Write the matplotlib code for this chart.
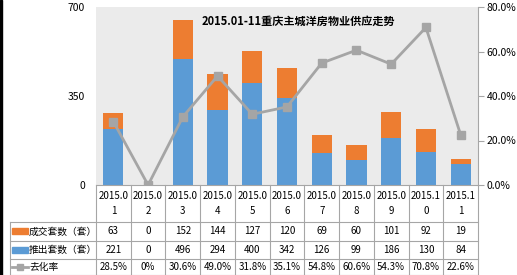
import matplotlib
matplotlib.use("Agg")
import matplotlib.pyplot as plt
from matplotlib.lines import Line2D
from matplotlib.patches import Rectangle
import numpy as np

plt.rcParams['font.family'] = ['Noto Sans CJK SC', 'DejaVu Sans']

months = ["2015.0\n1", "2015.0\n2", "2015.0\n3", "2015.0\n4", "2015.0\n5", "2015.0\n6",
          "2015.0\n7", "2015.0\n8", "2015.0\n9", "2015.1\n0", "2015.1\n1"]
sold = [63, 0, 152, 144, 127, 120, 69, 60, 101, 92, 19]
launched = [221, 0, 496, 294, 400, 342, 126, 99, 186, 130, 84]
rate = [28.5, 0, 30.6, 49.0, 31.8, 35.1, 54.8, 60.6, 54.3, 70.8, 22.6]
rate_labels = ["28.5%", "0%", "30.6%", "49.0%", "31.8%", "35.1%", "54.8%", "60.6%", "54.3%", "70.8%", "22.6%"]

BLUE = "#5B9BD5"
ORANGE = "#ED7D31"
GRAY = "#A5A5A5"
GRID = "#A6A6A6"

W, H = 517, 275
fig = plt.figure(figsize=(W / 100, H / 100), dpi=100)

# plot area in pixel coords
x0, x1, ytop, ybot = 96, 478, 7, 185
ax = fig.add_axes([x0 / W, 1 - ybot / H, (x1 - x0) / W, (ybot - ytop) / H])
ax.set_facecolor("#EBEBEB")

x = np.arange(len(months))
ax.bar(x, launched, width=0.58, color=BLUE, zorder=2)
ax.bar(x, sold, width=0.58, bottom=launched, color=ORANGE, zorder=2)
ax.set_xlim(-0.5, len(months) - 0.5)
ax.set_ylim(0, 700)
ax.set_yticks([0, 350, 700])
ax.tick_params(axis="y", length=0, labelsize=7.5, pad=8)
ax.set_xticks([])
for s in ["top", "left", "right"]:
    ax.spines[s].set_visible(False)
ax.spines["bottom"].set_color(GRID)

ax2 = ax.twinx()
ax2.plot(x, rate, color=GRAY, lw=2, marker="s", ms=6, zorder=3)
ax2.set_ylim(0, 80)
ax2.set_yticks([0, 20, 40, 60, 80])
ax2.set_yticklabels(["0.0%", "20.0%", "40.0%", "60.0%", "80.0%"])
ax2.tick_params(axis="y", direction="out", length=4, color=GRID, labelsize=7.5, pad=2)
for s in ["top", "left", "bottom"]:
    ax2.spines[s].set_visible(False)
ax2.spines["right"].set_color(GRID)

ax.text(0.53, 0.92, "2015.01-11重庆主城洋房物业供应走势", transform=ax.transAxes,
        ha="center", va="center", fontsize=8, fontweight="bold")

# data table under the plot, in pixel coordinates
ov = fig.add_axes([0, 0, 1, 1], facecolor="none")
ov.set_xlim(0, W)
ov.set_ylim(H, 0)
ov.axis("off")

colw = (x1 - x0) / len(months)
rows = [185, 222, 241, 259, 275]
lab_left = 10
for i in range(len(months) + 1):
    xx = x0 + i * colw
    ov.add_line(Line2D([xx, xx], [rows[0], rows[-1]], color=GRID, lw=0.8))
ov.add_line(Line2D([lab_left, lab_left], [rows[1], rows[-1]], color=GRID, lw=0.8))
for r in rows[1:]:
    ov.add_line(Line2D([lab_left, x1], [r, r], color=GRID, lw=0.8))

for i, m in enumerate(months):
    cx = x0 + (i + 0.5) * colw
    ov.text(cx, (rows[0] + rows[1]) / 2, m, ha="center", va="center", fontsize=7, linespacing=1.6)
    ov.text(cx, (rows[1] + rows[2]) / 2, str(sold[i]), ha="center", va="center", fontsize=7)
    ov.text(cx, (rows[2] + rows[3]) / 2, str(launched[i]), ha="center", va="center", fontsize=7)
    ov.text(cx, (rows[3] + rows[4]) / 2, rate_labels[i], ha="center", va="center", fontsize=7)

names = ["成交套数（套）", "推出套数（套）", "去化率"]
for k, name in enumerate(names):
    cy = (rows[k + 1] + rows[k + 2]) / 2
    if k < 2:
        ov.add_patch(Rectangle((12, cy - 3.5), 16, 6, color=[ORANGE, BLUE][k]))
    else:
        ov.add_line(Line2D([12, 28], [cy, cy], color=GRAY, lw=2))
        ov.plot([20], [cy], marker="s", ms=4, color=GRAY)
    ov.text(29, cy, name, ha="left", va="center", fontsize=7)

# screenshot edge
ov.add_patch(Rectangle((0, 0), 2, H, color="black"))

fig.savefig("out.png", dpi=100)
